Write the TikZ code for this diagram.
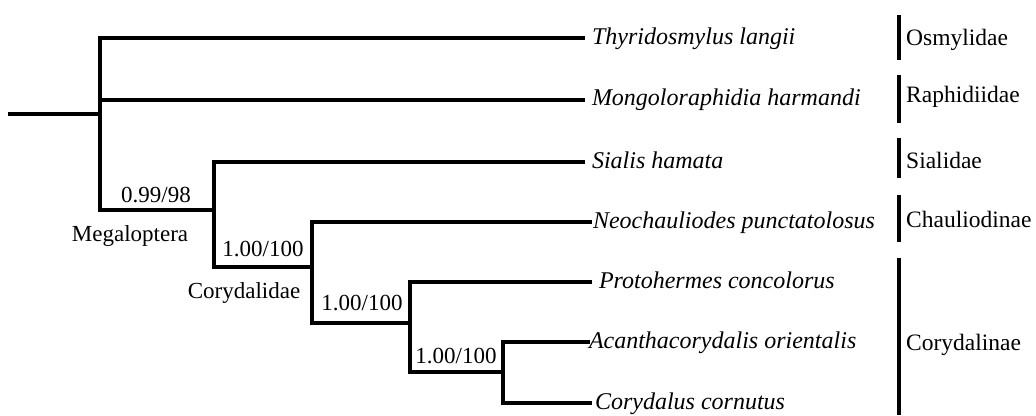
\documentclass[tikz,border=0pt]{standalone}
\usepackage{fontspec}
\setmainfont{Liberation Serif}
\begin{document}
\begin{tikzpicture}[x=1pt,y=-1pt,
  branch/.style={line width=3.2pt, line cap=rect},
  famrule/.style={line width=4.8pt},
  leafname/.style={font=\fontsize{24}{27}\selectfont\itshape, anchor=base west, inner ysep=0pt, outer sep=0pt},
  famname/.style={font=\fontsize{23.5}{26}\selectfont, anchor=base west, inner sep=0pt},
  support/.style={font=\fontsize{23}{26}\selectfont, anchor=base, inner sep=0pt}]
\useasboundingbox (0,0) rectangle (1036,415);
% internal node coordinates
\coordinate (r) at (10,114);
\coordinate (n0) at (100,114);
\coordinate (n0a) at (100,38);
\coordinate (n0b) at (100,100);
\coordinate (n0c) at (100,210);
\coordinate (n1) at (214,210);
\coordinate (n1a) at (214,162);
\coordinate (n1b) at (214,267);
\coordinate (n2) at (312,267);
\coordinate (n2a) at (312,222);
\coordinate (n2b) at (312,323);
\coordinate (n3) at (410,323);
\coordinate (n3a) at (410,282);
\coordinate (n3b) at (410,372);
\coordinate (n4) at (503,372);
\coordinate (n4a) at (503,342);
\coordinate (n4b) at (503,403);
% leaves (baseline about 6px below the branch)
\node[leafname, inner xsep=9pt] (t1) at (583,44) {Thyridosmylus langii};
\node[leafname, inner xsep=9pt] (t2) at (583,105) {Mongoloraphidia harmandi};
\node[leafname, inner xsep=9pt] (t3) at (583,168) {Sialis hamata};
\node[leafname, inner xsep=3pt] (t4) at (590,228) {Neochauliodes punctatolosus};
\node[leafname, inner xsep=9pt] (t5) at (590,288) {Protohermes concolorus};
\node[leafname, inner xsep=1pt] (t6) at (588,348) {Acanthacorydalis orientalis};
\node[leafname, inner xsep=5pt] (t7) at (590,409) {Corydalus cornutus};
% tree
\draw[branch] (r) -- (n0);
\draw[branch] (n0a) -- (n0c);
\draw[branch] (n0a) -- (n0a -| t1.west);
\draw[branch] (n0b) -- (n0b -| t2.west);
\draw[branch] (n0c) -- (n1);
\draw[branch] (n1a) -- (n1b);
\draw[branch] (n1a) -- (n1a -| t3.west);
\draw[branch] (n1b) -- (n2);
\draw[branch] (n2a) -- (n2b);
\draw[branch] (n2a) -- (n2a -| t4.west);
\draw[branch] (n2b) -- (n3);
\draw[branch] (n3a) -- (n3b);
\draw[branch] (n3a) -- (n3a -| t5.west);
\draw[branch] (n3b) -- (n4);
\draw[branch] (n4a) -- (n4b);
\draw[branch] (n4a) -- (n4a -| t6.west);
\draw[branch] (n4b) -- (n4b -| t7.west);
% support values and clade names
\node[support] (s1) at (156,202) {0.99/98};
\node[support] (c1) at (130,241) {Megaloptera};
\node[support] (s2) at (263,256) {1.00/100};
\node[support] (c2) at (244,298) {Corydalidae};
\node[support] (s3) at (362,310) {1.00/100};
\node[support] (s4) at (456,363) {1.00/100};
% family bars
\draw[famrule] (899,15) -- (899,60);
\draw[famrule] (899,75) -- (899,123);
\draw[famrule] (899,138) -- (899,178);
\draw[famrule] (899,195) -- (899,242);
\draw[famrule] (899,258) -- (899,415);
\node[famname] (f1) at (906,45) {Osmylidae};
\node[famname] (f2) at (906,102) {Raphidiidae};
\node[famname] (f3) at (906,168) {Sialidae};
\node[famname] (f4) at (906,227) {Chauliodinae};
\node[famname] (f5) at (906,350) {Corydalinae};
\end{tikzpicture}
\end{document}
